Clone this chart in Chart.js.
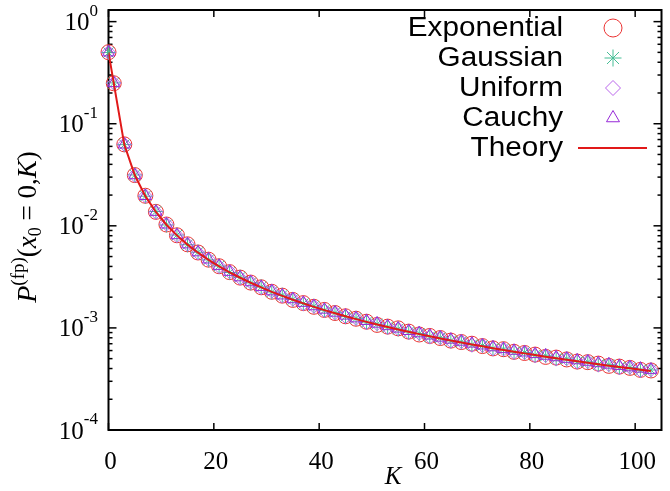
<!DOCTYPE html>
<html>
<head>
<meta charset="utf-8">
<script src="https://cdn.jsdelivr.net/npm/chart.js@4.4.0/dist/chart.umd.min.js"></script>
<style>
  html, body { margin: 0; padding: 0; background: #fff; }
  #wrap { width: 670px; height: 491px; }
</style>
</head>
<body>
<div id="wrap"><canvas id="c"></canvas></div>
<script>
// K values (0 then odd steps)
const K = [0, 1, 3, 5, 7, 9, 11, 13, 15, 17, 19, 21, 23, 25, 27, 29, 31, 33, 35, 37, 39,
  41, 43, 45, 47, 49, 51, 53, 55, 57, 59, 61, 63, 65, 67, 69, 71, 73, 75, 77, 79,
  81, 83, 85, 87, 89, 91, 93, 95, 97, 99, 101, 103];

const exponential = [0.502, 0.249, 0.0628, 0.0314, 0.0197, 0.0137, 0.0103, 0.00808, 0.00659, 0.00548,
  0.00466, 0.00402, 0.00352, 0.00311, 0.00278, 0.00250, 0.00226, 0.00207, 0.00188, 0.00175,
  0.00161, 0.00150, 0.00140, 0.00130, 0.00123, 0.00115, 0.00107, 0.00103, 0.000990, 0.000920,
  0.000862, 0.000834, 0.000796, 0.000751, 0.000727, 0.000700, 0.000664, 0.000630, 0.000619, 0.000583,
  0.000568, 0.000548, 0.000520, 0.000512, 0.000491, 0.000468, 0.000462, 0.000447, 0.000425, 0.000418,
  0.000406, 0.000388, 0.000383];

const gaussian = [0.499, 0.251, 0.0624, 0.0315, 0.0195, 0.0138, 0.0102, 0.00812, 0.00653, 0.00551,
  0.00464, 0.00404, 0.00349, 0.00314, 0.00276, 0.00252, 0.00225, 0.00209, 0.00190, 0.00173,
  0.00163, 0.00149, 0.00141, 0.00129, 0.00124, 0.00114, 0.00109, 0.00102, 0.000975, 0.000912,
  0.000880, 0.000820, 0.000800, 0.000748, 0.000730, 0.000684, 0.000671, 0.000628, 0.000620, 0.000578,
  0.000575, 0.000540, 0.000533, 0.000500, 0.000497, 0.000466, 0.000465, 0.000436, 0.000436, 0.000410,
  0.000410, 0.000386, 0.000387];

const uniform = [0.501, 0.250, 0.0627, 0.0312, 0.0196, 0.0136, 0.0104, 0.00803, 0.00661, 0.00543,
  0.00470, 0.00399, 0.00355, 0.00308, 0.00281, 0.00248, 0.00229, 0.00205, 0.00191, 0.00172,
  0.00163, 0.00148, 0.00141, 0.00129, 0.00124, 0.00113, 0.00110, 0.00101, 0.000980, 0.000905,
  0.000885, 0.000815, 0.000805, 0.000742, 0.000735, 0.000678, 0.000675, 0.000624, 0.000622, 0.000575,
  0.000577, 0.000533, 0.000537, 0.000497, 0.000500, 0.000463, 0.000468, 0.000433, 0.000438, 0.000407,
  0.000413, 0.000383, 0.000390];

const cauchy = [0.500, 0.250, 0.0626, 0.0313, 0.0196, 0.0137, 0.0103, 0.00810, 0.00658, 0.00550,
  0.00468, 0.00405, 0.00354, 0.00313, 0.00280, 0.00252, 0.00228, 0.00208, 0.00191, 0.00176,
  0.00163, 0.00151, 0.00141, 0.00132, 0.00124, 0.00117, 0.00110, 0.00104, 0.000985, 0.000932,
  0.000885, 0.000842, 0.000803, 0.000767, 0.000733, 0.000702, 0.000673, 0.000646, 0.000620, 0.000597,
  0.000575, 0.000554, 0.000534, 0.000516, 0.000498, 0.000482, 0.000466, 0.000451, 0.000437, 0.000424,
  0.000411, 0.000399, 0.000388];

const theory = [0.5, 0.25, 0.0625, 0.03125, 0.01953, 0.01367, 0.01025, 0.008057, 0.006546, 0.005455,
  0.004637, 0.004005, 0.003504, 0.003100, 0.002768, 0.002491, 0.002257, 0.002058, 0.001887, 0.001738,
  0.001607, 0.001493, 0.001391, 0.001300, 0.001219, 0.001146, 0.001080, 0.001020, 0.000965, 0.000915,
  0.000869, 0.000827, 0.000788, 0.000753, 0.000719, 0.000689, 0.000660, 0.000633, 0.000608, 0.000585,
  0.000563, 0.000542, 0.000523, 0.000505, 0.000487, 0.000471, 0.000456, 0.000441, 0.000427, 0.000414,
  0.000402, 0.000390, 0.000379];

const xTicks = [0, 20, 40, 60, 80, 100];
const yTickExps = [-4, -3, -2, -1, 0];

const series = [
  { label: 'Exponential', values: exponential, color: 'rgb(235, 50, 50)', style: 'circle', r: 7.5, lr: 9 },
  { label: 'Gaussian', values: gaussian, color: 'rgb(70, 190, 150)', style: 'star', r: 7.5, lr: 8.5 },
  { label: 'Uniform', values: uniform, color: 'rgb(185, 100, 235)', style: 'rectRot', r: 7, lr: 7.5 },
  { label: 'Cauchy', values: cauchy, color: 'rgb(150, 40, 215)', style: 'triangle', r: 7, lr: 7.5 }
];
const theoryColor = 'rgb(225, 25, 25)';

const pts = vals => K.map((k, i) => ({ x: k, y: vals[i] }));

const datasets = [{
  label: 'Theory',
  data: pts(theory),
  showLine: true,
  borderColor: theoryColor,
  borderWidth: 2,
  pointRadius: 0,
  tension: 0,
  order: 0
}];
series.forEach((s, i) => {
  datasets.push({
    label: s.label,
    data: pts(s.values),
    showLine: false,
    pointStyle: s.style,
    pointRadius: s.r,
    pointBorderWidth: 1,
    pointBorderColor: s.color,
    pointBackgroundColor: 'rgba(0,0,0,0)',
    clip: false,
    order: 4 - i
  });
});

const serif = '"Liberation Serif", "Times New Roman", serif';
const sans = '"Liberation Sans", Arial, sans-serif';

function seg(ctx, x1, y1, x2, y2) {
  ctx.beginPath(); ctx.moveTo(x1, y1); ctx.lineTo(x2, y2); ctx.stroke();
}

const frame = {
  id: 'frame',
  beforeDatasetsDraw(chart) {
    const { ctx, chartArea: a, scales: { x, y } } = chart;
    ctx.save();
    ctx.strokeStyle = '#000';
    ctx.lineWidth = 1.5;
    xTicks.forEach(v => {
      const px = x.getPixelForValue(v);
      seg(ctx, px, a.bottom, px, a.bottom - 7);
      seg(ctx, px, a.top, px, a.top + 7);
    });
    yTickExps.forEach(e => {
      for (let m = 1; m <= 9; m++) {
        const v = m * Math.pow(10, e);
        if (v > y.max) break;
        const py = y.getPixelForValue(v);
        const len = m === 1 ? 8 : 4;
        seg(ctx, a.left, py, a.left + len, py);
        seg(ctx, a.right, py, a.right - len, py);
      }
    });
    ctx.lineWidth = 2;
    ctx.strokeRect(a.left, a.top, a.right - a.left, a.bottom - a.top);

    // tick labels
    ctx.fillStyle = '#000';
    ctx.font = '25px ' + serif;
    ctx.textAlign = 'center';
    ctx.textBaseline = 'middle';
    xTicks.forEach(v => ctx.fillText(String(v), x.getPixelForValue(v) + 2, 462));
    yTickExps.forEach(e => {
      const py = y.getPixelForValue(Math.pow(10, e));
      const ex = String(e);
      ctx.font = '17px ' + serif;
      const ew = ctx.measureText(ex).width;
      const right = 98;
      ctx.textAlign = 'left';
      ctx.fillText(ex, right - ew, py - 10);
      ctx.font = '25px ' + serif;
      ctx.textAlign = 'right';
      ctx.fillText('10', right - ew, py + 2);
    });

    // x title
    ctx.textAlign = 'center';
    ctx.font = 'italic 25px ' + serif;
    ctx.fillText('K', 393, 477);

    // y title, rotated
    ctx.translate(29, 227);
    ctx.rotate(-Math.PI / 2);
    const parts = [
      ['italic 28px ' + serif, 'P', 0],
      ['19px ' + serif, '(fp)', -10],
      ['27px ' + serif, '(', 0],
      ['italic 27px ' + serif, 'x', 0],
      ['18px ' + serif, '0', 7],
      ['27px ' + serif, ' = 0,', 0],
      ['italic 27px ' + serif, 'K', 0],
      ['27px ' + serif, ')', 0]
    ];
    let total = 0;
    parts.forEach(p => { ctx.font = p[0]; total += ctx.measureText(p[1]).width; });
    let cx = -total / 2;
    ctx.textAlign = 'left';
    parts.forEach(p => {
      ctx.font = p[0];
      ctx.fillText(p[1], cx, p[2]);
      cx += ctx.measureText(p[1]).width;
    });
    ctx.restore();
  },
  afterDraw(chart) {
    const ctx = chart.ctx;
    ctx.save();
    ctx.fillStyle = '#000';
    ctx.textBaseline = 'middle';
    ctx.textAlign = 'right';
    const rowY = [28, 58, 88, 118, 148];
    const labels = series.map(s => s.label).concat(['Theory']);
    labels.forEach((t, i) => {
      ctx.save();
      ctx.translate(563, rowY[i]);
      ctx.scale(1.1, 1);
      ctx.font = '27px ' + sans;
      ctx.fillText(t, 0, 1);
      ctx.restore();
    });
    series.forEach((s, i) => {
      ctx.strokeStyle = s.color;
      ctx.fillStyle = 'rgba(0,0,0,0)';
      ctx.lineWidth = 1;
      Chart.helpers.drawPoint(ctx, { pointStyle: s.style, radius: s.lr, borderWidth: 1, rotation: 0 }, 613, rowY[i]);
    });
    ctx.strokeStyle = theoryColor;
    ctx.lineWidth = 2;
    seg(ctx, 578, rowY[4], 647, rowY[4]);
    ctx.restore();
  }
};

new Chart(document.getElementById('c'), {
  type: 'scatter',
  data: { datasets: datasets },
  options: {
    responsive: true,
    maintainAspectRatio: false,
    animation: false,
    layout: { padding: { top: 10, right: 2, left: 0, bottom: 0 } },
    plugins: { legend: { display: false }, tooltip: { enabled: false } },
    scales: {
      x: {
        type: 'linear', min: 0, max: 105,
        ticks: { display: false }, grid: { display: false }, border: { display: false },
        afterFit: s => { s.height = 61; }
      },
      y: {
        type: 'logarithmic', min: 1e-4, max: 1.3,
        ticks: { display: false }, grid: { display: false }, border: { display: false },
        afterFit: s => { s.width = 108.5; }
      }
    }
  },
  plugins: [frame]
});
</script>
</body>
</html>
